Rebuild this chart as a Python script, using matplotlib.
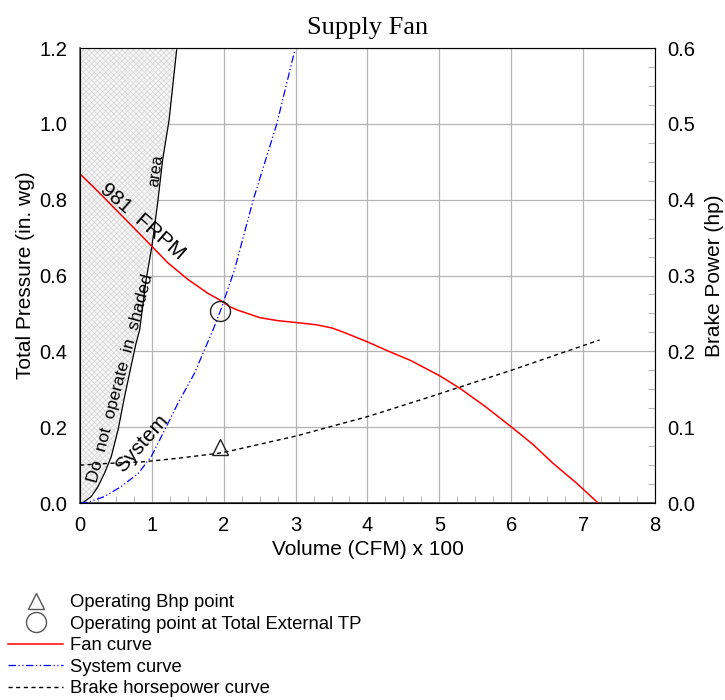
import matplotlib
matplotlib.use('Agg')
import matplotlib.pyplot as plt
from matplotlib.lines import Line2D

plt.rcParams['font.family'] = ['Liberation Sans', 'DejaVu Sans']
plt.rcParams['hatch.linewidth'] = 0.5

# datos
fan_x = [0.0, 0.25, 0.53, 0.81, 1.0, 1.22, 1.5, 1.78, 1.96, 2.08, 2.19, 2.5, 2.75, 3.01, 3.29,
         3.5, 3.66, 4.0, 4.31, 4.6, 4.86, 5.01, 5.29, 5.65, 6.0, 6.3, 6.58, 6.9, 7.21]
fan_y = [0.868, 0.822, 0.768, 0.714, 0.677, 0.634, 0.590, 0.553, 0.534, 0.518, 0.509, 0.489, 0.481,
         0.476, 0.470, 0.462, 0.451, 0.425, 0.399, 0.376, 0.350, 0.335, 0.302, 0.253, 0.201,
         0.155, 0.105, 0.054, 0.0]

sys_x = [0.0, 0.11, 0.34, 0.57, 0.81, 0.99, 1.18, 1.36, 1.59, 1.73, 1.85, 1.96, 2.15, 2.41,
         2.74, 2.99]
sys_y = [0.0, 0.002, 0.017, 0.043, 0.078, 0.122, 0.193, 0.262, 0.341, 0.403, 0.456, 0.51, 0.615,
         0.799, 1.001, 1.195]

bhp_x = [0.0, 0.435, 0.9, 1.36, 1.92, 2.09, 2.64, 3.01, 3.48, 4.0, 4.87, 6.0, 7.23]
bhp_y = [0.05, 0.0525, 0.0545, 0.059, 0.0655, 0.0686, 0.0805, 0.0884, 0.1006, 0.1139, 0.140,
         0.175, 0.215]

lim_x = [0.0, 0.04, 0.157, 0.25, 0.34, 0.435, 0.53, 0.62, 0.71, 0.78, 0.83, 0.92, 1.0, 1.08,
         1.15, 1.24, 1.345]
lim_y = [0.0, 0.001, 0.017, 0.043, 0.078, 0.122, 0.193, 0.28, 0.36, 0.421, 0.456, 0.588, 0.676,
         0.79, 0.905, 1.01, 1.195]

op_cfm = 1.95
op_tp = 0.507
op_bhp = 0.074

fig = plt.figure(figsize=(7.25, 7), dpi=100)
ax = fig.add_axes([0.1103, 0.2814, 0.7931, 0.65])
ax2 = ax.twinx()

# zona sombreada (no operar)
ax.fill_betweenx(lim_y + [1.2], [0] * (len(lim_x) + 1), lim_x + [1.345],
                 facecolor='#f6f6f6', edgecolor='#d6d6d6', hatch='xxxxxx', linewidth=0, zorder=1)
ax.plot(lim_x, lim_y, color='black', linewidth=0.9, zorder=3)

ax.plot(fan_x, fan_y, color='red', linewidth=1.1, zorder=4)
ax.plot(sys_x, sys_y, color='blue', linestyle=(0, (6, 2, 1, 2, 1, 2)), linewidth=0.9, zorder=4)
ax.plot(op_cfm, op_tp, 'o', markersize=14.4, markerfacecolor='none', markeredgecolor='#222222',
        markeredgewidth=1.0, zorder=5)

ax2.plot(bhp_x, bhp_y, color='black', linestyle=(0, (3, 2.5)), linewidth=1.0, zorder=4)
ax2.plot(op_cfm, op_bhp, '^', markersize=12, markerfacecolor='none', markeredgecolor='#222222',
         markeredgewidth=1.0, zorder=5)

ax.set_xlim(0, 8)
ax.set_ylim(0, 1.2)
ax2.set_ylim(0, 0.6)
ax.set_xticks(range(0, 9))
ax.set_yticks([0.0, 0.2, 0.4, 0.6, 0.8, 1.0, 1.2])
ax.set_yticklabels(['0.0', '0.2', '0.4', '0.6', '0.8', '1.0', '1.2'])
ax2.set_yticks([0.0, 0.1, 0.2, 0.3, 0.4, 0.5, 0.6])
ax2.set_yticklabels(['0.0', '0.1', '0.2', '0.3', '0.4', '0.5', '0.6'])
ax.set_xticks([i * 0.25 for i in range(33)], minor=True)
ax.set_yticks([i * 0.05 for i in range(25)], minor=True)
ax2.set_yticks([i * 0.025 for i in range(25)], minor=True)

ax.tick_params(which='major', length=0, labelsize=14.5, pad=9)
ax2.tick_params(which='major', length=0, labelsize=14.5, pad=9)
ax.tick_params(which='minor', direction='in', length=5, color='#bbbbbb', width=0.8)
ax2.tick_params(which='minor', direction='in', length=5, color='#bbbbbb', width=0.8)

ax.grid(True, which='major', color='#b4b4b4', linewidth=0.9, zorder=0)
ax.set_axisbelow(True)
for sp in ax.spines.values():
    sp.set_color('#666666')
ax.spines['bottom'].set_color('#444444')
ax.spines['bottom'].set_linewidth(1.3)
ax.spines['left'].set_linewidth(1.3)

ax.set_xlabel('Volume (CFM) x 100', fontsize=15, labelpad=4)
ax.set_ylabel('Total Pressure (in. wg)', fontsize=15, labelpad=3)
ax2.set_ylabel('Brake Power (hp)', fontsize=15, labelpad=7)
ax.set_title('Supply Fan', fontsize=19, family='Liberation Serif', pad=10)

# textos sobre las curvas
ax.text(0.875, 0.742, '981  FRPM', rotation=-41, fontsize=15, ha='center', va='center', zorder=6)
ax.text(1.065, 0.877, 'area', rotation=82, fontsize=11.5, ha='center', va='center', zorder=6)
ax.text(0.56, 0.33, 'Do  not  operate  in  shaded', rotation=75, fontsize=12.5,
        ha='center', va='center', zorder=6)
ax.text(0.86, 0.156, 'System', rotation=49, fontsize=15, ha='center', va='center', zorder=6)

handles = [
    Line2D([], [], linestyle='none', marker='^', markersize=12, markerfacecolor='none',
           markeredgecolor='#555555'),
    Line2D([], [], linestyle='none', marker='o', markersize=14.4, markerfacecolor='none',
           markeredgecolor='#555555'),
    Line2D([], [], color='red', linewidth=1.1),
    Line2D([], [], color='blue', linestyle=(0, (6, 2, 1, 2, 1, 2)), linewidth=0.9),
    Line2D([], [], color='black', linestyle=(0, (3, 2.5)), linewidth=1.0),
]
labels = ['Operating Bhp point', 'Operating point at Total External TP', 'Fan curve',
          'System curve', 'Brake horsepower curve']
fig.legend(handles, labels, loc='upper left', bbox_to_anchor=(0.0115, 0.151), frameon=False,
           fontsize=13.3, handlelength=2.97, handletextpad=0.36, labelspacing=0.24, borderpad=0,
           borderaxespad=0)

plt.savefig('out.png', dpi=100)
plt.close()
